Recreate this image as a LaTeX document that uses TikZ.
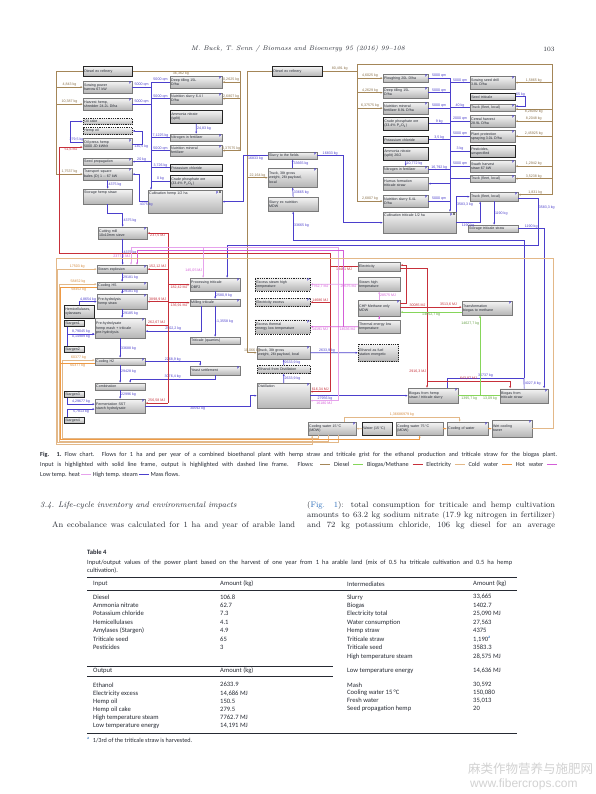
\documentclass[tikz,border=0pt]{standalone}
\usepackage{fontspec}
\usepackage{xcolor}
\usepackage{tikz}
\usetikzlibrary{arrows.meta,positioning}
\newfontfamily\chartfont{Liberation Sans}
\newfontfamily\capfont{Carlito}
\newfontfamily\cjkfont{Noto Sans CJK SC}
\definecolor{inkgray}{HTML}{262A33}
\definecolor{boxline}{HTML}{7A7A7A}
\definecolor{massblue}{HTML}{4B3FCC}
\definecolor{dieseltan}{HTML}{A48658}
\definecolor{biogasgreen}{HTML}{86D65A}
\definecolor{elecred}{HTML}{C7303A}
\definecolor{coldtan}{HTML}{E3B888}
\definecolor{hotorange}{HTML}{EE9A45}
\definecolor{lowpink}{HTML}{D45ED8}
\definecolor{steamlilac}{HTML}{E6A2EC}
\definecolor{linkblue}{HTML}{2A6EBB}
\newcommand\chf{\chartfont\fontsize{3.6}{4.1}\selectfont}
\newcommand\flowdash[1]{\textcolor{#1}{\rule[0.6ex]{10pt}{0.7pt}}}
\tikzset{
  proc/.style={draw=boxline,line width=0.3pt,top color=gray!8,bottom color=gray!58,inner sep=1pt,font=\chf,text=inkgray,align=left,anchor=north west},
  inproc/.style={proc,draw=black!85,line width=0.55pt},
  outproc/.style={proc,draw=black!85,line width=0.5pt,dash pattern=on 1pt off 0.8pt},
  pmark/.style={label={[font=\chf\bfseries,text=massblue,anchor=north east,inner sep=0.8pt]north east:p}},
  pxmark/.style={label={[font=\chf\bfseries,text=massblue,anchor=north east,inner sep=0.8pt]north east:p\,\textcolor{black}{X}}},
  flow/.style={line width=0.7pt,-{Latex[length=2.4pt,width=2pt]}},
  massflow/.style={flow,draw=massblue},
  dieselflow/.style={flow,draw=dieseltan},
  elecflow/.style={flow,draw=elecred},
  gasflow/.style={flow,draw=biogasgreen},
  coldflow/.style={flow,draw=coldtan},
  hotflow/.style={flow,draw=hotorange},
  lowflow/.style={flow,draw=lowpink},
  steamflow/.style={flow,draw=steamlilac},
  busline/.style={line width=0.7pt},
  flab/.style={font=\chf,inner sep=0.5pt},
  mlab/.style={flab,text=massblue},
  dlab/.style={flab,text=dieseltan!85!black},
  elab/.style={flab,text=elecred},
  glab/.style={flab,text=biogasgreen!75!black},
  clab/.style={flab,text=hotorange!90!black},
  slab/.style={flab,text=lowpink},
  bodytext/.style={anchor=west,inner sep=0pt,text=inkgray,font=\fontsize{8}{10}\selectfont},
  tabhead/.style={anchor=west,inner sep=0pt,text=inkgray,font=\capfont\fontsize{6.6}{8}\selectfont},
  tabtext/.style={anchor=north west,inner sep=0pt,align=left,text=inkgray,font=\capfont\fontsize{6.6}{8.45}\selectfont},
}
\begin{document}
\begin{tikzpicture}[x=1pt,y=-1pt]
  \useasboundingbox (0,0) rectangle (595,794);
  \fill[white] (0,0) rectangle (595,794);
  \node[font=\itshape\fontsize{6.6}{8}\selectfont,text=inkgray] (runhead) at (298,49) {M. Buck, T. Senn / Biomass and Bioenergy 95 (2016) 99--108};
  \node[font=\fontsize{6.6}{8}\selectfont,text=inkgray] (pageno) at (549,49) {103};

  % hemp line
  \node[inproc,text width=47pt,minimum height=10pt] (dieselA) at (83,66) {Diesel ex refinery};
  \node[proc,pmark,text width=47pt,minimum height=12pt] (sowH) at (83,81) {Sowing power\\harrow 67 kW};
  \node[proc,pmark,text width=47pt,minimum height=12pt] (harvH) at (83,98) {Harvest hemp,\\shredder 24.2L D/ha};
  \node[outproc,text width=47pt,minimum height=6.5pt] (oilcake) at (83,118) {Oil cake};
  \node[outproc,text width=47pt,minimum height=6.5pt] (hempoil) at (83,127.5) {Hemp oil};
  \node[proc,pmark,text width=47pt,minimum height=11pt] (oilpress) at (83,138.5) {Oil press hemp\\5000 JD kWh/t};
  \node[proc,pmark,text width=47pt,minimum height=7pt] (seedprop) at (83,158) {Seed propagation};
  \node[proc,pmark,text width=47pt,minimum height=12pt] (transH) at (83,168) {Transport square\\bales (D) 1 -- 67 kW};
  \node[proc,text width=47pt,minimum height=15pt,text depth=8pt] (storH) at (83,189) {Storage hemp straw};
  \node[proc,pmark,text width=47pt,minimum height=12pt] (cutmill) at (98,227) {Cutting mill\\10x10mm sieve};
  \node[proc,pmark,text width=50pt,minimum height=12pt] (deepH) at (170,76) {Deep tilling 15L\\D/ha};
  \node[proc,pmark,text width=50pt,minimum height=11pt] (slurH) at (170,93) {Nutrition slurry 6.4 l\\D/ha};
  \node[inproc,text width=50pt,minimum height=13pt] (ammH) at (170,110) {Ammonia nitrate\\(split)};
  \node[proc,pmark,text width=50pt,minimum height=7pt] (nitroH) at (170,134) {Nitrogen in fertilizer};
  \node[proc,pmark,text width=50pt,minimum height=11pt] (minH) at (170,145) {Nutrition mineral\\fertilizer};
  \node[inproc,text width=50pt,minimum height=7pt] (potH) at (170,164) {Potassium chloride};
  \node[inproc,text width=50pt,minimum height=12pt] (crudeH) at (170,175) {Crude phosphate ore\\(33.4\% P\textsubscript{2}O\textsubscript{5})};
  \node[proc,pxmark,text width=72pt,minimum height=23pt,text depth=17pt] (cultH) at (148,190) {Cultivation hemp 1/2 ha};

  % slurry
  \node[inproc,text width=48pt,minimum height=10pt] (dieselB) at (272,66) {Diesel ex refinery};
  \node[proc,pmark,text width=47pt,minimum height=7pt] (slurFld) at (268,152) {Slurry to the fields};
  \node[proc,pmark,text width=47pt,minimum height=19pt] (truck1) at (268,168) {Truck, 38t gross\\weight, 26t payload,\\local};
  \node[proc,text width=48pt,minimum height=14pt] (slurMDW) at (268,197) {Slurry ex nutrition\\MDW};

  % triticale line
  \node[proc,pmark,text width=43pt,minimum height=8pt] (plouT) at (383,74) {Ploughing 20L D/ha};
  \node[proc,pmark,text width=43pt,minimum height=11pt] (deepT) at (383,87) {Deep tilling 15L\\D/ha};
  \node[proc,pmark,text width=43pt,minimum height=12pt] (minT) at (383,102) {Nutrition mineral\\fertilizer 8.9L D/ha};
  \node[inproc,text width=43pt,minimum height=13pt] (crudeT) at (383,117) {Crude phosphate ore\\(33.4\% P\textsubscript{2}O\textsubscript{5})};
  \node[inproc,text width=43pt,minimum height=7pt] (potT) at (383,136) {Potassium chloride};
  \node[inproc,text width=43pt,minimum height=13pt] (ammT) at (383,147) {Ammonia nitrate\\(split) 26/2};
  \node[proc,pmark,text width=43pt,minimum height=7pt] (nitroT) at (383,166) {Nitrogen in fertilizer};
  \node[proc,text width=43pt,minimum height=13pt] (humusT) at (383,177) {Humus formation\\triticale straw};
  \node[proc,pmark,text width=43pt,minimum height=12pt] (slurT) at (383,195) {Nutrition slurry 6.4L\\D/ha};
  \node[proc,pxmark,text width=71pt,minimum height=21pt,text depth=15pt] (cultT) at (383,212) {Cultivation triticale 1/2 ha};
  \node[proc,pmark,text width=43pt,minimum height=13pt] (sowT) at (470,76) {Sowing seed drill\\3.8L D/ha};
  \node[inproc,text width=43pt,minimum height=7pt] (seedT) at (470,93) {Seed triticale};
  \node[proc,pmark,text width=43pt,minimum height=7pt] (truckT1) at (470,104) {Truck (fleet, local)};
  \node[proc,pmark,text width=43pt,minimum height=12pt] (harvT) at (470,115) {Cereal harvest\\28.9L D/ha};
  \node[proc,pmark,text width=43pt,minimum height=12pt] (protT) at (470,130) {Plant protection\\spraying 3.0L D/ha};
  \node[inproc,text width=43pt,minimum height=12pt] (pestT) at (470,145) {Pesticides,\\unspecified};
  \node[proc,pmark,text width=43pt,minimum height=12pt] (swathT) at (470,160) {Swath harvest\\straw 67 kW};
  \node[proc,pmark,text width=43pt,minimum height=7pt] (truckT2) at (470,175) {Truck (fleet, local)};
  \node[proc,pmark,text width=46pt,minimum height=9pt] (truckT3) at (470,192) {Truck (fleet, local)};
  \node[proc,text width=48pt,minimum height=7pt] (storT) at (468,225) {Storage triticale straw};

  % ethanol and biogas plant
  \node[proc,pmark,text width=48pt,minimum height=8pt] (steam) at (97,265) {Steam explosion};
  \node[proc,pmark,text width=48pt,minimum height=7pt] (coolH) at (97,282) {Cooling HS};
  \node[proc,pmark,text width=48pt,minimum height=15pt] (prehyd) at (97,294) {Pre-hydrolysis\\hemp straw};
  \node[inproc,text width=28pt,minimum height=13pt] (hemicell) at (64,305) {Hemicellulases,\\xylanases};
  \node[inproc,text width=18pt,minimum height=6pt] (stargen1) at (64,320) {Stargen1};
  \node[inproc,text width=18pt,minimum height=6pt] (stargen2) at (64,346) {Stargen2};
  \node[proc,pmark,text width=48pt,minimum height=20pt] (prehyd2) at (95,318) {Pre-hydrolysate\\hemp mash + triticale\\pre-hydrolysis};
  \node[proc,pmark,text width=48pt,minimum height=7pt] (coolH2) at (95,358) {Cooling H2};
  \node[proc,text width=48pt,minimum height=7pt] (combust) at (95,383) {Combination};
  \node[proc,pmark,text width=48pt,minimum height=14pt] (ferment) at (95,399) {Fermentation SST\\starch hydrolysate};
  \node[inproc,text width=18pt,minimum height=6pt] (stargen3) at (64,391) {Stargen3};
  \node[inproc,text width=18pt,minimum height=6pt] (stargen4) at (64,417) {Stargen4};
  \node[proc,pmark,text width=48pt,minimum height=13pt] (procT) at (190,278) {Processing triticale\\DBF2};
  \node[proc,pmark,text width=48pt,minimum height=7pt] (millT) at (190,299) {Milling triticale};
  \node[proc,text width=48pt,minimum height=7pt] (tritGrain) at (190,337) {Triticale (quarries)};
  \node[proc,pmark,text width=48pt,minimum height=9pt] (yeast) at (190,366) {Yeast settlement};
  \node[outproc,pmark,text width=53pt,minimum height=13pt] (excSteam) at (255,277.5) {Excess steam high\\temperature};
  \node[outproc,pmark,text width=53pt,minimum height=8pt] (excElec) at (255,298) {Electricity excess};
  \node[outproc,pmark,text width=53pt,minimum height=14pt] (excTherm) at (255,319.5) {Excess thermal\\energy low temperature};
  \node[proc,pmark,text width=51pt,minimum height=13pt] (truck2) at (257,346) {Truck, 38t gross\\weight, 26t payload, local};
  \node[outproc,text width=51pt,minimum height=8pt] (ethDist) at (257,365) {Ethanol from Distillation};
  \node[proc,pmark,text width=51pt,minimum height=25pt,text depth=19pt] (distill) at (257,383) {Distillation};
  \node[proc,text width=40pt,minimum height=9pt] (electricity) at (358,262) {Electricity};
  \node[proc,text width=40pt,minimum height=14pt] (steamHT) at (358,277) {Steam high\\temperature};
  \node[proc,pmark,text width=40pt,minimum height=16pt] (chpM) at (358,300) {CHP Methane only\\MDW};
  \node[proc,text width=40pt,minimum height=13pt] (thermLow) at (358,320) {Thermal energy low\\temperature};
  \node[outproc,text width=38pt,minimum height=17pt] (ethFuel) at (358,344) {Ethanol as fuel\\station energetic};
  \node[proc,pmark,text width=48pt,minimum height=14pt] (transform) at (462,301) {Transformation\\biogas to methane};
  \node[proc,pmark,text width=48pt,minimum height=15pt] (biogasH) at (408,388) {Biogas from hemp\\straw / triticale slurry};
  \node[proc,pmark,text width=46pt,minimum height=14pt] (biogasT) at (500,388.5) {Biogas from\\triticale straw};
  \node[proc,pmark,text width=46pt,minimum height=13pt] (coolW15) at (308,422) {Cooling water 15\,°C\\(MDW)};
  \node[inproc,text width=28pt,minimum height=13pt] (water) at (362,422) {Water (15\,°C)};
  \node[proc,text width=45pt,minimum height=13pt] (coolW75) at (396,422) {Cooling water 75\,°C\\(MDW)};
  \node[proc,pmark,text width=39pt,minimum height=13pt] (coolOfW) at (447,422) {Cooling of water};
  \node[proc,pmark,text width=38pt,minimum height=17pt] (wetCool) at (492,420) {Wet cooling\\tower};

  % bus lines and shifted ends
  \coordinate (hdl) at (56,0);
  \coordinate (hdr) at (240,0);
  \coordinate (hbus) at (151,0);
  \coordinate (eleft) at (59,0);
  \coordinate (dmb) at (247,0);
  \coordinate (hsl) at (243,0);
  \coordinate (tsl) at (343,0);
  \coordinate (tdl) at (357,0);
  \coordinate (tdr) at (552,0);
  \coordinate (dtopy) at (0,64);
  \coordinate (tbus) at (450,0);
  \coordinate (gx) at (538,0);
  \coordinate (gy) at (0,245);
  \coordinate (dig) at (524,0);
  \coordinate (dtop) at (0,240);
  \coordinate (dmid) at (0,378);
  \coordinate (ebusR) at (330,0);
  \coordinate (ebusL) at (168,0);
  \coordinate (etop) at (0,253);
  \coordinate (sbus) at (338,0);
  \coordinate (sty) at (0,247);
  \coordinate (stl) at (131,0);
  \coordinate (lbus) at (343,0);
  \coordinate (ltop) at (0,250);
  \coordinate (lsx) at (137,0);
  \coordinate (ebio) at (427,0);
  \coordinate (ebT) at (0,381);
  \coordinate (gjoin) at (480,0);
  \coordinate (fjx) at (250,0);
  \coordinate (cw1) at (57.5,0);
  \coordinate (cw2) at (59,0);
  \coordinate (cw3) at (60.5,0);
  \coordinate (cw4) at (62,0);
  \coordinate (cwb1) at (0,442.5);
  \coordinate (cwb2) at (0,441);
  \coordinate (cwb3) at (0,439.5);
  \coordinate (cwb4) at (0,438);
  \coordinate (frTR) at (553,258);
  \coordinate (frBL) at (56,444);
  \coordinate (opw) at ([yshift=-3pt]oilpress.west);
  \coordinate (opb) at ([yshift=2pt]oilpress.west);
  \coordinate (p2r) at ([yshift=3pt]prehyd2.east);
  \coordinate (p2m) at ([yshift=-3pt]prehyd2.east);
  \coordinate (p2b) at ([yshift=-6pt]prehyd2.west);
  \coordinate (fmr) at ([yshift=3pt]ferment.east);
  \coordinate (fa) at ([yshift=2pt]ferment.west);
  \coordinate (fb) at ([yshift=-3pt]ferment.west);
  \coordinate (s1s) at ([xshift=3pt]stargen1.south west);
  \coordinate (s2n) at ([xshift=3pt]stargen2.north west);
  \coordinate (s3s) at ([xshift=3pt]stargen3.south west);
  \coordinate (s4n) at ([xshift=3pt]stargen4.north west);
  \coordinate (ptn) at ([xshift=-12pt]procT.north);
  \coordinate (ptg) at ([xshift=12pt]procT.north);
  \coordinate (mts) at ([xshift=-14pt]millT.south);
  \coordinate (ytn) at ([xshift=-15pt]yeast.north);
  \coordinate (cbn) at ([xshift=10pt]combust.north);
  \coordinate (dse) at ([yshift=4pt]distill.east);
  \coordinate (dsb) at ([yshift=-5pt]distill.east);
  \coordinate (t3a) at ([xshift=-14pt]truckT3.south);
  \coordinate (t3d) at ([yshift=2pt]truckT3.east);
  \coordinate (t3g) at ([yshift=-2pt]truckT3.east);
  \coordinate (tt1) at ([yshift=1.5pt]truckT1.east);
  \coordinate (tt2) at ([yshift=-1.5pt]truckT1.east);
  \coordinate (bhn) at ([xshift=14pt]biogasH.north);
  \coordinate (btn) at ([xshift=-14pt]biogasT.north);
  \coordinate (btr) at ([xshift=20pt]biogasT.north);
  \coordinate (cpe1) at ([yshift=5pt]chpM.east);
  \coordinate (cpe2) at ([yshift=1pt]chpM.east);
  \coordinate (cpe3) at ([yshift=-4pt]chpM.east);
  \coordinate (tfw2) at ([yshift=1pt]transform.west);
  \coordinate (tfw3) at ([yshift=-4pt]transform.west);
  \coordinate (elq) at ([yshift=1.5pt]electricity.east);
  \coordinate (elb) at ([yshift=-1.5pt]electricity.east);
  \coordinate (chw) at ([yshift=1.5pt]coolH.west);
  \coordinate (chc) at ([yshift=-1.5pt]coolH.west);
  \coordinate (c2w) at ([yshift=1.5pt]coolH2.west);
  \coordinate (c2c) at ([yshift=-1.5pt]coolH2.west);
  \coordinate (w1) at ([xshift=6pt]coolW15.south);
  \coordinate (w2) at ([xshift=-4pt]coolW15.south);
  \coordinate (w4) at ([xshift=-14pt]coolW15.south);
  \coordinate (w0) at ([xshift=-20pt]coolW15.south);
  \coordinate (cwn) at ([xshift=12pt]coolW15.north);
  \coordinate (cfn) at ([xshift=-8pt]coolOfW.north);

  % diesel
  \draw[busline,dieseltan] (dieselA.west) -| (hdl |- transH.west);
  \draw[dieselflow] (hdl |- sowH.west) -- node[dlab,above]{4,843 kg} (sowH.west);
  \draw[dieselflow] (hdl |- harvH.west) -- node[dlab,above]{10,387 kg} (harvH.west);
  \draw[dieselflow] (hdl |- transH.west) -- node[dlab,above]{1,7537 kg} (transH.west);
  \draw[busline,dieseltan] (dieselA.east) -- node[dlab,below,pos=0.45]{36,362 kg} (hdr |- dieselA.east) -- (hdr |- minH.east);
  \draw[dieselflow] (hdr |- deepH.east) -- node[dlab,above]{0,2625 kg} (deepH.east);
  \draw[dieselflow] (hdr |- slurH.east) -- node[dlab,above]{2,6807 kg} (slurH.east);
  \draw[dieselflow] (hdr |- minH.east) -- node[dlab,above]{0,37575 kg} (minH.east);
  \draw[busline,dieseltan] (dieselB.west) -| (dmb |- truck2.west);
  \draw[dieselflow] (dmb |- truck1.west) -- node[dlab,above]{22,164 kg} (truck1.west);
  \draw[dieselflow] (dmb |- truck2.west) -- node[dlab,above]{10,066 kg} (truck2.west);
  \draw[busline,dieseltan] (dieselB.east) -- node[dlab,above]{80,491 kg} (tdl |- dieselB.east) -- (tdl |- slurT.west);
  \draw[busline,dieseltan] (tdl |- dieselB.east) |- (tdr |- dtopy) -- (tdr |- t3d);
  \draw[dieselflow] (tdl |- plouT.west) -- node[dlab,above]{4,6025 kg} (plouT.west);
  \draw[dieselflow] (tdl |- deepT.west) -- node[dlab,above]{4,2629 kg} (deepT.west);
  \draw[dieselflow] (tdl |- minT.west) -- node[dlab,above]{6,37575 kg} (minT.west);
  \draw[dieselflow] (tdl |- slurT.west) -- node[dlab,above]{2,6807 kg} (slurT.west);
  \draw[dieselflow] (tdr |- sowT.east) -- node[dlab,above]{1,5865 kg} (sowT.east);
  \draw[dieselflow] (tdr |- tt2) -- node[dlab,below]{8,28092 kg} (tt2);
  \draw[dieselflow] (tdr |- harvT.east) -- node[dlab,above]{8,2048 kg} (harvT.east);
  \draw[dieselflow] (tdr |- protT.east) -- node[dlab,above]{2,45925 kg} (protT.east);
  \draw[dieselflow] (tdr |- swathT.east) -- node[dlab,above]{1,2942 kg} (swathT.east);
  \draw[dieselflow] (tdr |- truckT2.east) -- node[dlab,above]{3,5238 kg} (truckT2.east);
  \draw[dieselflow] (tdr |- t3d) -- node[dlab,above]{1,831 kg} (t3d);

  % mass flows, cultivation
  \draw[massflow] (hbus |- deepH.west) -- (hbus |- cultH.north);
  \draw[massflow,-] (sowH.east) -- node[mlab,above]{5000 qm} (hbus |- sowH.east);
  \draw[massflow,-] (harvH.east) -- node[mlab,above]{5000 qm} (hbus |- harvH.east);
  \draw[massflow] (hbus |- seedprop.east) -- node[mlab,above]{20 kg} (seedprop.east);
  \draw[massflow,-] (hbus |- deepH.west) -- node[mlab,above]{5000 qm} (deepH.west);
  \draw[massflow,-] (hbus |- slurH.west) -- node[mlab,above]{5000 qm} (slurH.west);
  \draw[massflow,-] (hbus |- nitroH.west) -- node[mlab,above]{7,1225 kg} (nitroH.west);
  \draw[massflow,-] (hbus |- minH.west) -- node[mlab,above]{5000 qm} (minH.west);
  \draw[massflow,-] (hbus |- potH.west) -- node[mlab,above]{3,726 kg} (potH.west);
  \draw[massflow,-] (hbus |- crudeH.west) -- node[mlab,above]{0 kg} (crudeH.west);
  \draw[massflow] (ammH.south) -- node[mlab,right]{24,83 kg} (nitroH.north);
  \draw[massflow] (opb) -- node[mlab,above]{279,5 kg} ++(-13,0) |- (oilcake.west);
  \draw[massflow] (oilpress.east) -- node[mlab,below,pos=0.9]{130,5 kg} ++(10,0) |- (hempoil.east);
  \draw[massflow] (cultH.west) -- node[mlab,below,pos=0.2]{4375 kg} ++(-9,0) |- (transH.east);
  \draw[massflow] (transH.south) -- node[mlab,right]{4375 kg} (storH.north);
  \draw[massflow] (storH.south) -- ++(0,9) -| node[mlab,right,pos=0.75]{4375 kg} (cutmill.north);
  \draw[massflow] (truck1.north) -- node[mlab,right]{33665 kg} (slurFld.south);
  \draw[massflow] (slurMDW.north) -- node[mlab,right]{33665 kg} (truck1.south);
  \draw[massflow] (slurFld.west) -| node[mlab,below,pos=0.25]{16833 kg} (hsl |- cultH.east) -- (cultH.east);
  \draw[massflow] (slurFld.east) -| node[mlab,above,pos=0.25]{16833 kg} (tsl |- cultT.west) -- (cultT.west);
  \draw[massflow] (tbus |- plouT.east) -- (tbus |- cultT.north);
  \draw[massflow,-] (plouT.east) -- node[mlab,above]{5000 qm} (tbus |- plouT.east);
  \draw[massflow,-] (deepT.east) -- node[mlab,above]{5000 qm} (tbus |- deepT.east);
  \draw[massflow,-] (minT.east) -- node[mlab,above]{5000 qm} (tbus |- minT.east);
  \draw[massflow,-] (crudeT.east) -- node[mlab,above]{9 kg} (tbus |- crudeT.east);
  \draw[massflow,-] (potT.east) -- node[mlab,above]{3,5 kg} (tbus |- potT.east);
  \draw[massflow,-] (nitroT.east) -- node[mlab,above]{16,792 kg} (tbus |- nitroT.east);
  \draw[massflow,-] (slurT.east) -- node[mlab,above]{5000 qm} (tbus |- slurT.east);
  \draw[massflow] (tbus |- humusT.east) -- (humusT.east);
  \draw[massflow] (ammT.south) -- node[mlab,right]{10,772 kg} (nitroT.north);
  \draw[massflow,-] (tbus |- sowT.west) -- node[mlab,above]{5000 qm} (sowT.west);
  \draw[massflow,-] (tbus |- truckT1.west) -- node[mlab,above]{40 kg} (truckT1.west);
  \draw[massflow,-] (tbus |- harvT.west) -- node[mlab,above]{2000 qm} (harvT.west);
  \draw[massflow,-] (tbus |- protT.west) -- node[mlab,above]{5000 qm} (protT.west);
  \draw[massflow,-] (tbus |- pestT.west) -- node[mlab,above]{3 kg} (pestT.west);
  \draw[massflow,-] (tbus |- swathT.west) -- node[mlab,above]{5000 qm} (swathT.west);
  \draw[massflow,-] (tbus |- truckT2.west) -- (truckT2.west);
  \draw[massflow] (seedT.east) -- node[mlab,above]{65 kg} ++(10,0) |- (tt1);
  \draw[massflow] (cultT.north east) |- node[mlab,right,pos=0.25]{3583,3 kg} (truckT3.west);
  \draw[massflow] (cultT.east) -| node[mlab,below,pos=0.25]{1190 kg} (t3a);
  \draw[massflow] (truckT3.south) -- node[mlab,right]{1190 kg} (truckT3.south |- storT.north);
  \draw[massflow] (storT.east) -| node[mlab,above,pos=0.25]{1190 kg} (btr);
  \draw[massflow] (t3g) -| node[mlab,right,pos=0.6]{3583,3 kg} (gx |- gy) -| (ptg);

  % mass flows, plant
  \draw[massflow] (cutmill.south) -- node[mlab,right]{4375 kg} (cutmill.south |- steam.north);
  \draw[massflow] (steam.south) -- node[mlab,right]{29181 kg} (coolH.north);
  \draw[massflow] (coolH.south) -- node[mlab,right]{29181 kg} (prehyd.north);
  \draw[massflow] (prehyd.south) -- node[mlab,right]{29185 kg} (prehyd.south |- prehyd2.north);
  \draw[massflow] (prehyd2.south) -- node[mlab,right]{33688 kg} (coolH2.north);
  \draw[massflow] (coolH2.south) -- node[mlab,right,pos=0.35]{29428 kg} (combust.north);
  \draw[massflow] (combust.south) -- node[mlab,right]{22996 kg} (ferment.north);
  \draw[massflow] (coolH2.east) -| node[mlab,above,pos=0.25]{2268,9 kg} (ytn);
  \draw[massflow] (yeast.south) -- ++(0,4) -| node[mlab,above,pos=0.25]{3076,4 kg} (cbn);
  \draw[massflow] (ferment.east) -- node[mlab,below]{30592 kg} (fjx |- ferment.east) |- (distill.west);
  \draw[massflow] (procT.south) -- node[mlab,right]{2580,9 kg} (millT.north);
  \draw[massflow] (mts) |- node[mlab,above,pos=0.75]{2502,2 kg} (p2m);
  \draw[massflow] (millT.south) -- node[mlab,right]{-1,3558 kg} (tritGrain.north);
  \draw[massflow] (hemicell.north) |- node[mlab,above,pos=0.75]{4,8654 kg} (prehyd.west);
  \draw[massflow] (s1s) |- node[mlab,above,pos=0.75]{8,79045 kg} (p2b);
  \draw[massflow] (s2n) |- node[mlab,below,pos=0.75]{0,14989 kg} (p2b);
  \draw[massflow] (s3s) |- node[mlab,above,pos=0.75]{4,29677 kg} (fa);
  \draw[massflow] (s4n) |- node[mlab,below,pos=0.75]{5,7813 kg} (fb);
  \draw[massflow] (distill.north) -- node[mlab,right]{2633,9 kg} (ethDist.south);
  \draw[massflow] (ethDist.north) -- node[mlab,right]{2633,9 kg} (truck2.south);
  \draw[massflow] (truck2.east) -- node[mlab,above,pos=0.35]{2633,9 kg} (ethFuel.west);
  \draw[massflow] (distill.east) -- node[mlab,below,pos=0.15]{27956 kg} (biogasH.west);
  \draw[massflow,-] (bhn) |- node[mlab,above,pos=0.75]{36737 kg} (dig |- dmid);
  \draw[massflow,-] (biogasT.north) -- node[mlab,right]{4027,8 kg} (dig |- dmid);
  \draw[massflow] (dig |- dmid) -- (dig |- dtop) -| node[mlab,right,pos=0.75]{33665 kg} (slurMDW.south);

  % electricity
  \draw[busline,elecred] (ebusR |- dse) -- (ebusR |- etop) -- (eleft |- etop);
  \draw[elecflow] (eleft |- etop) |- node[elab,below,pos=0.75]{51,6 MJ} (opw);
  \draw[busline,elecred] (ebusL |- cutmill.east) -- (ebusL |- fmr);
  \draw[busline,elecred] (electricity.west) -- node[elab,below]{18461 MJ} (ebusR |- electricity.west);
  \draw[elecflow] (ebusL |- cutmill.east) -- node[elab,below]{237,5 MJ} (cutmill.east);
  \draw[elecflow] (ebusL |- steam.east) -- node[elab,above]{152,12 MJ} (steam.east);
  \draw[elecflow] (ebusL |- prehyd.east) -- node[elab,above]{3898,9 MJ} (prehyd.east);
  \draw[elecflow] (ebusL |- p2r) -- node[elab,above]{262,67 MJ} (p2r);
  \draw[elecflow] (ebusL |- fmr) -- node[elab,above]{256,58 MJ} (fmr);
  \draw[elecflow] (ebusL |- procT.west) -- node[elab,below]{182,42 MJ} (procT.west);
  \draw[elecflow] (ebusL |- millT.west) -- node[elab,below]{136,91 MJ} (millT.west);
  \draw[elecflow] (ebusR |- excElec.east) -- node[elab,above]{14686 MJ} (excElec.east);
  \draw[elecflow] (ebusR |- dse) -- node[elab,above]{616,34 MJ} (dse);
  \draw[elecflow] (cpe1) -- ++(6,0) |- (elq);
  \draw[elecflow] (elb) -| node[elab,left,pos=0.93]{2916,3 MJ} (ebio |- biogasH.north);
  \draw[elecflow] (ebio |- ebT) -| node[elab,above,pos=0.25]{643,87 MJ} (btn);
  \draw[elecflow] (cpe2) -- node[elab,above,pos=0.28]{30085 MJ} node[elab,above,pos=0.78]{3513,6 MJ} (tfw2);

  % steam and heat
  \draw[steamflow] (steamHT.west) -- node[slab,below,pos=0.2]{20575 MJ} node[slab,below,pos=0.8]{7762,7 MJ} (excSteam.east);
  \draw[busline,steamlilac] (sbus |- dsb) -- (sbus |- sty) -- (stl |- sty);
  \draw[steamflow] (stl |- sty) -- node[slab,left]{2377,5 MJ} (stl |- steam.north);
  \draw[steamflow] (ptn |- sty) -- node[slab,left,pos=0.75]{145,05 MJ} (ptn);
  \draw[steamflow] (sbus |- dsb) -- node[slab,below]{16180 MJ} (dsb);
  \draw[steamflow] (chpM.north) -- node[slab,right]{28575 MJ} (steamHT.south);
  \draw[lowflow] (thermLow.west) -- node[slab,below,pos=0.22]{14636 MJ} node[slab,below,pos=0.8]{14191 MJ} (excTherm.east);
  \draw[lowflow] (lbus |- thermLow.west) -- (lbus |- ltop) -- (lsx |- ltop) -- (lsx |- steam.north);
  \draw[lowflow] (chpM.south) -- (thermLow.north);

  % biogas
  \draw[gasflow] (tfw3) -- node[glab,below]{14652,7 kg} (cpe3);
  \draw[gasflow,-] (biogasH.east) -- node[glab,below]{1395,7 kg} (gjoin |- biogasH.east);
  \draw[gasflow,-] (biogasT.west) -- node[glab,below]{13,09 kg} (gjoin |- biogasT.west);
  \draw[gasflow] (gjoin |- biogasH.east) -- node[glab,left,pos=0.9]{14627,7 kg} (gjoin |- transform.south);

  % cooling water
  \draw[coldflow] (w1) |- (cw1 |- cwb1) |- node[clab,above,pos=0.75]{17503 kg} (steam.west);
  \draw[coldflow] (w2) |- (cw2 |- cwb2) |- node[clab,above,pos=0.75]{58452 kg} (chw);
  \draw[hotflow] (chc) -| node[clab,below,pos=0.25]{58452 kg} (cw3 |- cwb3) -| (coolW75.south);
  \draw[coldflow] (w4) |- (cw4 |- cwb4) |- node[clab,above,pos=0.75]{60377 kg} (c2w);
  \draw[busline,hotorange] (c2c) -| node[clab,below,pos=0.25]{60377 kg} (cw3 |- cwb3);
  \draw[coldflow] (wetCool.east) -| (frTR) -| (frBL) -| (w0);
  \draw[coldflow] (water.west) -- (coolW15.east);
  \draw[hotflow] (coolW75.east) -- (coolOfW.west);
  \draw[hotflow] (coolOfW.east) -- (wetCool.west);
  \draw[coldflow] (cwn) -- ++(0,-5) -| node[clab,above,pos=0.25]{1,36686979 kg} (cfn);

  % caption
  \node[anchor=west,inner sep=0pt,text=inkgray,font=\capfont\fontsize{6.2}{7}\selectfont] (cap1) at (40,455) {\makebox[517pt][s]{\textbf{Fig. 1.}\enspace Flow chart. Flows for 1 ha and per year of a combined bioethanol plant with hemp straw and triticale grist for the ethanol production and triticale straw for the biogas plant.}};
  \node[anchor=west,inner sep=0pt,text=inkgray,font=\capfont\fontsize{6.2}{7}\selectfont] (cap2) at (40,465) {\makebox[517pt][s]{Input is highlighted with solid line frame, output is highlighted with dashed line frame. Flows: \flowdash{dieseltan} Diesel \flowdash{biogasgreen} Biogas/Methane \flowdash{elecred} Electricity \flowdash{coldtan} Cold water \flowdash{hotorange} Hot water \flowdash{lowpink}}};
  \node[anchor=west,inner sep=0pt,text=inkgray,font=\capfont\fontsize{6.2}{7}\selectfont] (cap3) at (40,475) {Low temp. heat \flowdash{steamlilac} High temp. steam \flowdash{massblue} Mass flows.};

  % text
  \node[bodytext,font=\itshape\fontsize{8}{10}\selectfont] (sechead) at (40,505) {3.4.\hspace{4pt}Life-cycle inventory and environmental impacts};
  \node[bodytext] (lefttext) at (52,525) {\makebox[243pt][s]{An ecobalance was calculated for 1 ha and year of arable land}};
  \node[bodytext] (righttext1) at (307,505) {\makebox[248pt][s]{(\textcolor{linkblue}{Fig. 1}): total consumption for triticale and hemp cultivation}};
  \node[bodytext] (righttext2) at (307,515) {\makebox[248pt][s]{amounts to 63.2 kg sodium nitrate (17.9 kg nitrogen in fertilizer)}};
  \node[bodytext] (righttext3) at (307,525) {\makebox[248pt][s]{and 72 kg potassium chloride, 106 kg diesel for an average}};

  % table 4
  \node[tabhead,font=\capfont\bfseries\fontsize{6.6}{8}\selectfont] (tabno) at (87,552) {Table 4};
  \node[tabtext,font=\capfont\fontsize{6.4}{7.2}\selectfont] (tabcap) at (87,560) {\makebox[425pt][s]{Input/output values of the power plant based on the harvest of one year from 1 ha arable land (mix of 0.5 ha triticale cultivation and 0.5 ha hemp}\\cultivation).};
  \draw[line width=0.6pt,inkgray] (87,577) -- (517,577);
  \node[tabhead] (hIn) at (93,584) {Input};
  \node[tabhead] (hInAmt) at (220,584) {Amount (kg)};
  \node[tabhead] (hMid) at (347,584) {Intermediates};
  \node[tabhead] (hMidAmt) at (473,584) {Amount (kg)};
  \draw[line width=0.4pt,inkgray] (87,590.5) -- (517,590.5);
  \node[tabtext] (inNames) at (93,594.3) {Diesel\\Ammonia nitrate\\Potassium chloride\\Hemicellulases\\Amylases (Stargen)\\Triticale seed\\Pesticides};
  \node[tabtext] (inVals) at (220,594.3) {106.8\\62.7\\7.3\\4.1\\4.9\\65\\3};
  \node[tabtext] (midNames) at (347,594.3) {Slurry\\Biogas\\Electricity total\\Water consumption\\Hemp straw\\Triticale straw\\Triticale seed\\High temperature steam};
  \node[tabtext] (midVals) at (473,594.3) {33,665\\1402.7\\25,090 MJ\\27,563\\4375\\1,190\textsuperscript{\textcolor{linkblue}{a}}\\3583.3\\28,575 MJ};
  \draw[line width=0.7pt,inkgray] (87,666.5) -- (333,666.5);
  \node[tabhead] (hOut) at (93,670.5) {Output};
  \node[tabhead] (hOutAmt) at (220,670.5) {Amount (kg)};
  \node[tabhead] (lowName) at (347,670.5) {Low temperature energy};
  \node[tabhead] (lowVal) at (473,670.5) {14,636 MJ};
  \draw[line width=0.4pt,inkgray] (87,676.5) -- (333,676.5);
  \node[tabtext,font=\capfont\fontsize{6.6}{8.1}\selectfont] (outNames) at (93,682.3) {Ethanol\\Electricity excess\\Hemp oil\\Hemp oil cake\\High temperature steam\\Low temperature energy};
  \node[tabtext,font=\capfont\fontsize{6.6}{8.1}\selectfont] (outVals) at (220,682.3) {2633.9\\14,686 MJ\\150.5\\279.5\\7762.7 MJ\\14,191 MJ};
  \node[tabtext,font=\capfont\fontsize{6.6}{7.8}\selectfont] (midNames2) at (347,682.3) {Mash\\Cooling water 15\,°C\\Fresh water\\Seed propagation hemp};
  \node[tabtext,font=\capfont\fontsize{6.6}{7.8}\selectfont] (midVals2) at (473,682.3) {30,592\\150,080\\35,013\\20};
  \draw[line width=0.7pt,inkgray] (87,733) -- (517,733);
  \node[tabhead,font=\capfont\fontsize{6.2}{7}\selectfont] (tabfoot) at (87,740) {\textsuperscript{\textcolor{linkblue}{a}}\enspace 1/3rd of the triticale straw is harvested.};

  % watermark
  \node[anchor=west,inner sep=0pt,text=gray!35,font=\cjkfont\fontsize{12.5}{14}\selectfont] (wmark1) at (468,769) {麻类作物营养与施肥网};
  \node[anchor=west,inner sep=0pt,text=gray!35,font=\chartfont\fontsize{12}{14}\selectfont] (wmark2) at (470,784) {www.fibercrops.com};
\end{tikzpicture}
\end{document}
